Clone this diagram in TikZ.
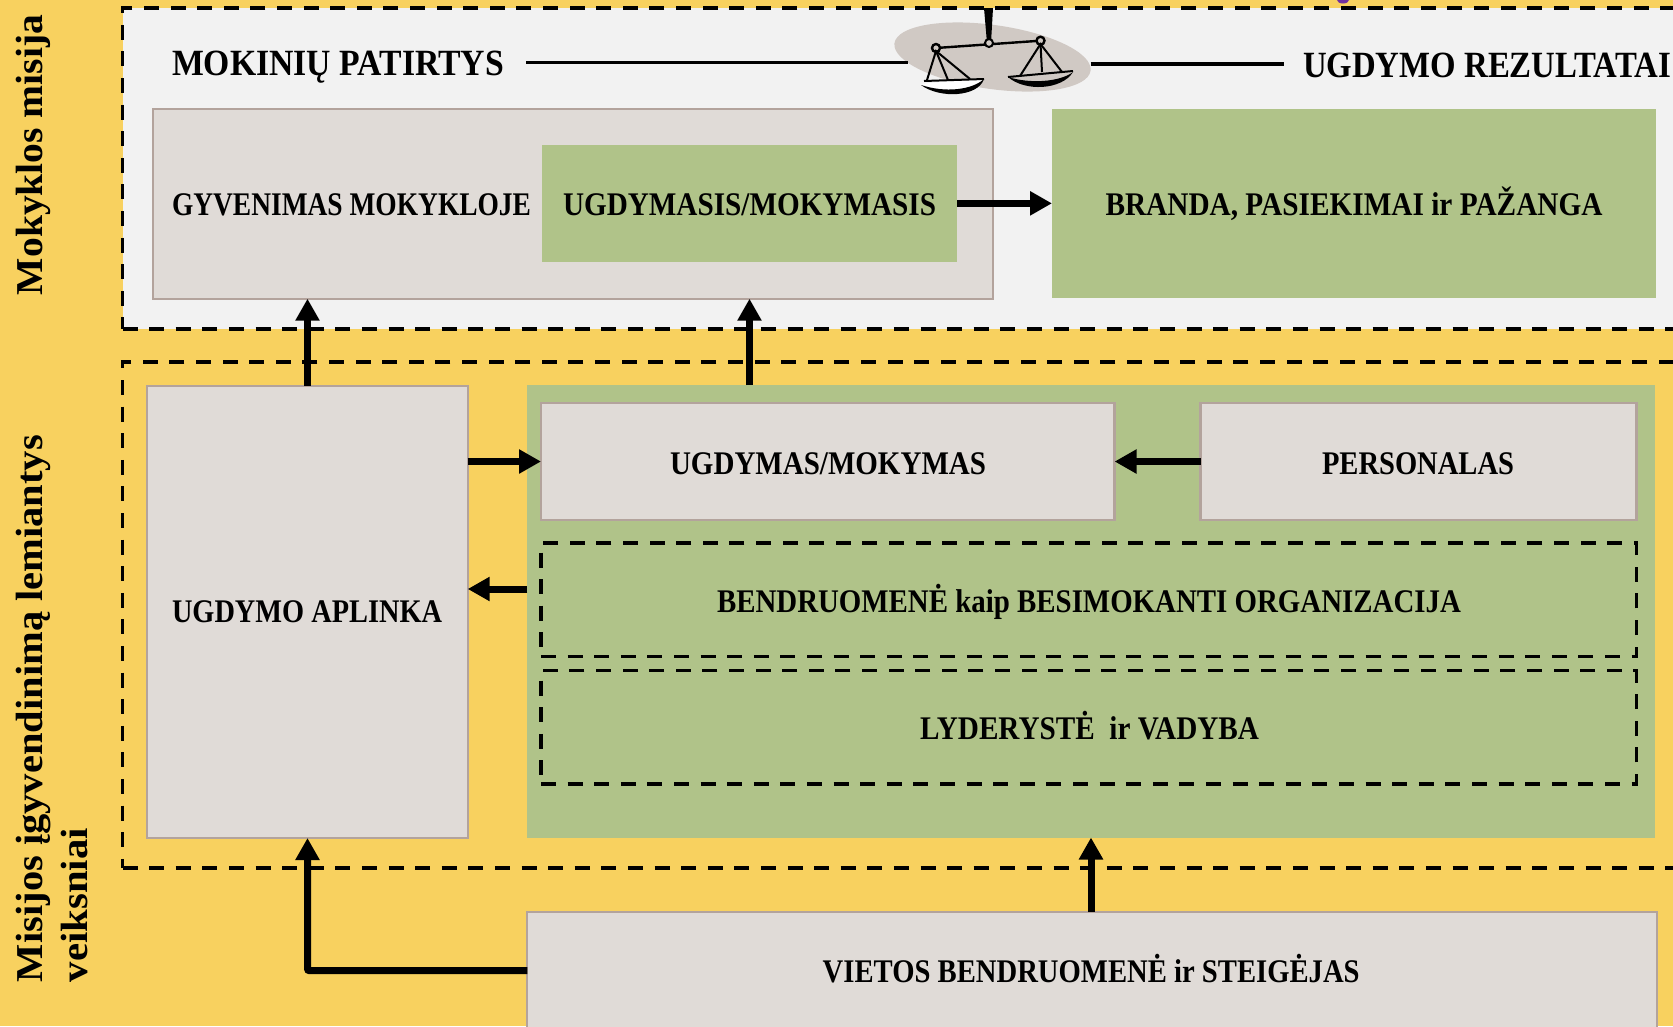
\documentclass[tikz,border=0pt]{standalone}
\usepackage{fontspec}
\usepackage{graphicx}
\setmainfont{Liberation Serif}
\usetikzlibrary{arrows.meta,shapes.geometric}
\definecolor{bgyellow}{HTML}{F8D15F}
\definecolor{panelgrey}{HTML}{F2F2F2}
\definecolor{boxgrey}{HTML}{E0DBD7}
\definecolor{boxedge}{HTML}{B3A39C}
\definecolor{leaf}{HTML}{B0C389}
\definecolor{scalebgcol}{HTML}{D0C9C4}
\definecolor{speck}{HTML}{7030A0}
\newcommand{\fittext}[3]{\resizebox{#1pt}{\height}{\fontsize{#2}{#2}\selectfont\bfseries #3}}
\tikzset{
  rectnode/.style={rectangle,inner sep=0pt,outer sep=0pt},
  greybox/.style={rectnode,fill=boxgrey,draw=boxedge,line width=2pt},
  greenbox/.style={rectnode,fill=leaf},
  dashbox/.style={rectnode,draw=black,line width=3.2pt,dash pattern=on 15pt off 11.6pt},
  label/.style={inner sep=0pt,outer sep=0pt,anchor=base west,text=black},
  flow/.style={line width=7pt,draw=black,-{Triangle[length=22pt,width=23pt]}},
  plainline/.style={line width=3.4pt,draw=black},
}
\begin{document}
\begin{tikzpicture}[x=1pt,y=-1pt]
\clip (0,0) rectangle (1673,1026);
\fill[bgyellow] (0,0) rectangle (1673,1026);
\fill[speck] (1343,0) ellipse (6 and 3.5);
% panels
\node[dashbox,line width=3.6pt,fill=panelgrey,minimum width=1600pt,minimum height=321pt,anchor=north west] (mission) at (122.5,8) {};
\node[dashbox,minimum width=1600pt,minimum height=506pt,anchor=north west] (factors) at (122.5,362) {};
% upper boxes
\node[greybox,minimum width=840pt,minimum height=190pt,anchor=north west] (life) at (152.5,108.7) {};
\node[greenbox,minimum width=415pt,minimum height=116.7pt,anchor=north west] (learning) at (542,145) {};
\node[greenbox,minimum width=604pt,minimum height=189pt,anchor=north west] (results) at (1052,108.7) {};
% lower boxes
\node[greybox,minimum width=320.4pt,minimum height=452.3pt,anchor=north west] (env) at (147.3,385.7) {};
\node[greenbox,minimum width=1127.2pt,minimum height=452.5pt,anchor=north west] (core) at (527.4,385) {};
\node[greybox,line width=2.6pt,minimum width=573.6pt,minimum height=117pt,anchor=north west] (teaching) at (541,403) {};
\node[greybox,line width=2.6pt,minimum width=436pt,minimum height=117pt,anchor=north west] (staff) at (1200.5,403) {};
\node[dashbox,minimum width=1095.5pt,minimum height=113.7pt,anchor=north west] (community) at (541,543) {};
\node[dashbox,minimum width=1095.5pt,minimum height=113.3pt,anchor=north west] (leaders) at (541,670.7) {};
\node[greybox,minimum width=1129.6pt,minimum height=150pt,anchor=north west] (local) at (527.4,912) {};
% texts
\node[label] (t1) at (172,75) {\fittext{332}{37}{MOKINIŲ PATIRTYS}};
\node[label] (t2) at (1303,77) {\fittext{368}{37}{UGDYMO REZULTATAI}};
\node[label] (t3) at (172,215) {\fittext{359}{33}{GYVENIMAS MOKYKLOJE}};
\node[label] (t4) at (563,215) {\fittext{373}{33}{UGDYMASIS/MOKYMASIS}};
\node[label] (t5) at (1105.5,215) {\fittext{497}{33}{BRANDA, PASIEKIMAI ir PAŽANGA}};
\node[label] (t6) at (670,474) {\fittext{316}{33}{UGDYMAS/MOKYMAS}};
\node[label] (t7) at (1322,474) {\fittext{192}{33}{PERSONALAS}};
\node[label] (t8) at (717,612) {\fittext{744}{33}{BENDRUOMENĖ kaip BESIMOKANTI ORGANIZACIJA}};
\node[label] (t9) at (920,739.3) {\fittext{339}{33}{LYDERYSTĖ~ ir VADYBA}};
\node[label] (t10) at (172,622) {\fittext{270}{33}{UGDYMO APLINKA}};
\node[label] (t11) at (822.7,982) {\fittext{537}{33}{VIETOS BENDRUOMENĖ ir STEIGĖJAS}};
\node[label,rotate=90] (s1) at (42,295) {\fittext{280}{38}{Mokyklos misija}};
\node[label,rotate=90] (s2) at (42,982) {\fittext{547}{38}{Misijos įgyvendinimą lemiantys}};
\node[label,rotate=90] (s3) at (87,982) {\fittext{154}{38}{veiksniai}};
% scale emblem
\node[ellipse,fill=scalebgcol,inner sep=0pt,minimum width=198pt,minimum height=64pt,rotate=-8] (balance) at (992.5,57) {};
\coordinate (lineA) at (526,62.5);
\coordinate (lineB) at (908,62.5);
\coordinate (lineC) at (1090.6,64);
\coordinate (lineD) at (1284,64);
\draw[plainline] (lineA) -- (lineB);
\draw[plainline] (lineC) -- (lineD);
\fill[black] (984,8) -- (993,8) -- (991,43) -- (987,43) -- cycle;
\draw[line width=2.4pt] (936,48) -- (1040.5,40.7);
\draw[line width=2pt,fill=scalebgcol] (989,43) circle (4);
\draw[line width=2.4pt,fill=scalebgcol] (936,48) circle (4);
\draw[line width=2.4pt,fill=scalebgcol] (1040.5,40.7) circle (4);
\draw[line width=2pt] (927,80) -- (936,51) -- (970,79);
\draw[line width=2pt] (936,51) -- (948,80);
\draw[line width=2pt] (1020,76) -- (1040.5,44) -- (1062,72);
\draw[line width=2pt] (1040.5,44) -- (1042,72);
\fill[white] (921,84) .. controls (945,81) and (965,81) .. (984,79) .. controls (978,90) and (945,95) .. (921,84) -- cycle;
\draw[line width=2pt] (924,81) -- (984,79);
\fill[black] (921,85) .. controls (945,93) and (972,90) .. (984,79) .. controls (978,97) and (940,99) .. (921,85) -- cycle;
\draw[line width=2pt] (1008,77) -- (1073,71);
\fill[black] (1008,77) .. controls (1030,84) and (1060,82) .. (1073,72) .. controls (1062,90) and (1025,92) .. (1008,77) -- cycle;
% connectors
\draw[flow] (env.north) -- (env.north |- life.south);
\draw[flow] (learning.south |- core.north) -- (learning.south |- life.south);
\draw[flow] (learning.east) -- (results.west |- learning.east);
\draw[flow] (env.east |- teaching.west) -- (teaching.west);
\draw[flow] (staff.west) -- (teaching.east);
\draw[flow] (core.west |- 0,589) -- (env.east |- 0,589);
\draw[flow] (local.north -| core.south) -- (core.south);
\draw[flow,rounded corners=2pt] (local.west |- 0,970.7) -| (env.south);
\end{tikzpicture}
\end{document}
